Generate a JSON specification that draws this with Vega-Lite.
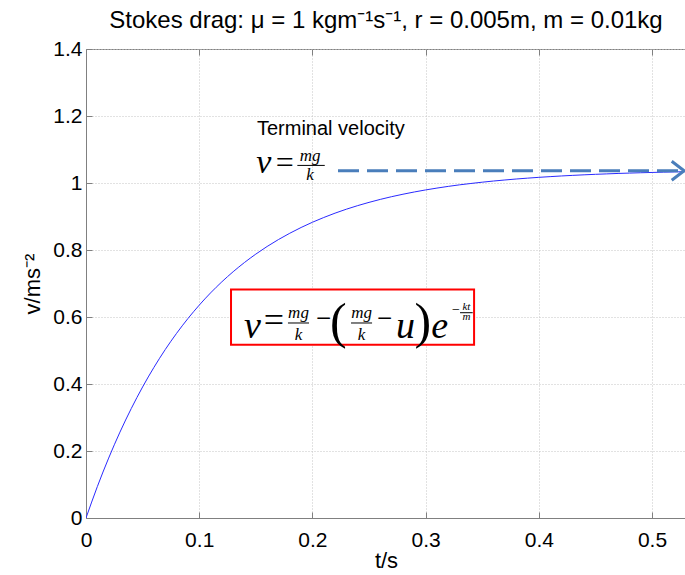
{
  "$schema": "https://vega.github.io/schema/vega-lite/v6.json",
  "width": 600,
  "height": 469,
  "autosize": {"type": "none"},
  "padding": {"left": 86, "top": 49, "right": 0, "bottom": 57},
  "background": "white",
  "title": {
    "text": "Stokes drag: μ = 1 kgm⁻¹s⁻¹, r = 0.005m, m = 0.01kg",
    "font": "Liberation Sans",
    "fontSize": 24,
    "fontWeight": "normal",
    "color": "#000000",
    "anchor": "middle",
    "offset": 5
  },
  "config": {
    "font": "Liberation Sans",
    "view": {"stroke": "#808080", "strokeWidth": 1}
  },
  "datasets": {
    "curve": [
      {"t": 0, "v": 0}, {"t": 0.01, "v": 0.0936}, {"t": 0.02, "v": 0.1788}, {"t": 0.03, "v": 0.2564},
      {"t": 0.04, "v": 0.3269}, {"t": 0.05, "v": 0.3911}, {"t": 0.06, "v": 0.4496}, {"t": 0.07, "v": 0.5028},
      {"t": 0.08, "v": 0.5512}, {"t": 0.09, "v": 0.5952}, {"t": 0.10, "v": 0.6353}, {"t": 0.11, "v": 0.6718},
      {"t": 0.12, "v": 0.7050}, {"t": 0.13, "v": 0.7352}, {"t": 0.14, "v": 0.7627}, {"t": 0.15, "v": 0.7877},
      {"t": 0.16, "v": 0.8105}, {"t": 0.17, "v": 0.8312}, {"t": 0.18, "v": 0.8500}, {"t": 0.19, "v": 0.8672},
      {"t": 0.20, "v": 0.8828}, {"t": 0.21, "v": 0.8970}, {"t": 0.22, "v": 0.9100}, {"t": 0.23, "v": 0.9218},
      {"t": 0.24, "v": 0.9325}, {"t": 0.25, "v": 0.9422}, {"t": 0.26, "v": 0.9511}, {"t": 0.27, "v": 0.9592},
      {"t": 0.28, "v": 0.9665}, {"t": 0.29, "v": 0.9732}, {"t": 0.30, "v": 0.9793}, {"t": 0.31, "v": 0.9848},
      {"t": 0.32, "v": 0.9899}, {"t": 0.33, "v": 0.9945}, {"t": 0.34, "v": 0.9986}, {"t": 0.35, "v": 1.0024},
      {"t": 0.36, "v": 1.0059}, {"t": 0.37, "v": 1.0090}, {"t": 0.38, "v": 1.0119}, {"t": 0.39, "v": 1.0145},
      {"t": 0.40, "v": 1.0169}, {"t": 0.41, "v": 1.0190}, {"t": 0.42, "v": 1.0210}, {"t": 0.43, "v": 1.0228},
      {"t": 0.44, "v": 1.0244}, {"t": 0.45, "v": 1.0259}, {"t": 0.46, "v": 1.0272}, {"t": 0.47, "v": 1.0285},
      {"t": 0.48, "v": 1.0296}, {"t": 0.49, "v": 1.0306}, {"t": 0.50, "v": 1.0315}, {"t": 0.51, "v": 1.0324},
      {"t": 0.52, "v": 1.0331}, {"t": 0.53, "v": 1.0338}
    ],
    "box": [{"t1": 0.1281, "t2": 0.3428, "v1": 0.5173, "v2": 0.6818}],
    "terminalLine": [{"t1": 0.2226, "t2": 0.5275, "v": 1.0367}],
    "arrowTip": [{"t": 0.5283, "v": 1.0367}],
    "terminalLabel": [{"t": 0.151, "v": 1.144, "label": "Terminal velocity"}],
    "eqItalic": [
      {"t": 0.1470, "v": 0.5373, "label": "v"},
      {"t": 0.2822, "v": 0.5373, "label": "u"},
      {"t": 0.3125, "v": 0.5373, "label": "e"}
    ],
    "eqEquals": [{"t": 0.1660, "v": 0.556, "label": "="}],
    "eqTermItalic": [{"t": 0.1570, "v": 1.0299, "label": "v"}],
    "eqTermEquals": [{"t": 0.1755, "v": 1.030, "label": "="}],
    "eqMinus": [
      {"t": 0.2098, "v": 0.5699, "label": "−"},
      {"t": 0.2637, "v": 0.5699, "label": "−"}
    ],
    "eqParen": [
      {"t": 0.2230, "v": 0.536, "label": "("},
      {"t": 0.2975, "v": 0.536, "label": ")"}
    ],
    "eqFracBox": [
      {"t": 0.1877, "v": 0.5979, "label": "mg"},
      {"t": 0.1877, "v": 0.5322, "label": "k"},
      {"t": 0.2434, "v": 0.5979, "label": "mg"},
      {"t": 0.2434, "v": 0.5322, "label": "k"}
    ],
    "eqFracTerm": [
      {"t": 0.1979, "v": 1.0645, "label": "mg"},
      {"t": 0.1979, "v": 1.0078, "label": "k"}
    ],
    "eqSupMinus": [{"t": 0.3268, "v": 0.6098, "label": "−"}],
    "eqSupFrac": [
      {"t": 0.3360, "v": 0.6200, "label": "kt"},
      {"t": 0.3360, "v": 0.5910, "label": "m"}
    ],
    "fracBars": [
      {"t1": 0.1784, "t2": 0.1970, "v": 0.5821},
      {"t1": 0.2341, "t2": 0.2527, "v": 0.5821},
      {"t1": 0.3304, "t2": 0.3416, "v": 0.6128},
      {"t1": 0.1867, "t2": 0.2109, "v": 1.0525}
    ]
  },
  "resolve": {"axis": {"x": "independent"}},
  "layer": [
    {
      "data": {"name": "curve"},
      "mark": {"type": "line", "color": "#2a2aff", "strokeWidth": 1, "interpolate": "monotone", "clip": true},
      "encoding": {
        "x": {
          "field": "t", "type": "quantitative",
          "scale": {"domain": [0, 0.53], "nice": false, "zero": false},
          "axis": {
            "orient": "bottom",
            "values": [0, 0.1, 0.2, 0.3, 0.4, 0.5],
            "format": "~g",
            "labelFont": "Liberation Sans", "labelFontSize": 21, "labelColor": "#000000",
            "labelFlush": false, "labelOverlap": false,
            "tickSize": -6, "tickColor": "#808080", "domainColor": "#808080",
            "labelPadding": 17,
            "grid": true, "gridColor": "#c4c4c4", "gridDash": [1, 2], "gridWidth": 1,
            "title": "t/s", "titleFont": "Liberation Sans", "titleFontSize": 22,
            "titleFontWeight": "normal", "titleColor": "#000000", "titlePadding": 0
          }
        },
        "y": {
          "field": "v", "type": "quantitative",
          "scale": {"domain": [0, 1.4], "nice": false},
          "axis": {
            "values": [0, 0.2, 0.4, 0.6, 0.8, 1, 1.2, 1.4],
            "format": "~g",
            "labelFont": "Liberation Sans", "labelFontSize": 21, "labelColor": "#000000",
            "labelFlush": false, "labelOverlap": false,
            "tickSize": -6, "tickColor": "#808080", "domainColor": "#808080",
            "labelPadding": 10,
            "grid": true, "gridColor": "#c4c4c4", "gridDash": [1, 2], "gridWidth": 1,
            "title": "v/ms⁻²", "titleFont": "Liberation Sans", "titleFontSize": 22,
            "titleFontWeight": "normal", "titleColor": "#000000", "titlePadding": 8
          }
        }
      }
    },
    {
      "data": {"name": "box"},
      "mark": {"type": "rect", "fill": "#ffffff", "stroke": "#ff0000", "strokeWidth": 2},
      "encoding": {
        "x": {
          "field": "t1", "type": "quantitative",
          "axis": {
            "orient": "top", "values": [0, 0.1, 0.2, 0.3, 0.4, 0.5],
            "labels": false, "domain": false, "grid": false, "title": null,
            "tickSize": -6, "tickColor": "#808080"
          }
        },
        "x2": {"field": "t2"},
        "y": {"field": "v1", "type": "quantitative"},
        "y2": {"field": "v2"}
      }
    },
    {
      "data": {"name": "terminalLine"},
      "mark": {"type": "rule", "color": "#4a7ebb", "strokeWidth": 3, "strokeDash": [21, 8]},
      "encoding": {
        "x": {"field": "t1", "type": "quantitative", "axis": null},
        "x2": {"field": "t2"},
        "y": {"field": "v", "type": "quantitative"}
      }
    },
    {
      "data": {"name": "arrowTip"},
      "mark": {"type": "point", "shape": "M-1.3,-1L0,0L-1.3,1", "filled": false, "stroke": "#4a7ebb", "strokeWidth": 3, "size": 361, "opacity": 1},
      "encoding": {
        "x": {"field": "t", "type": "quantitative", "axis": null},
        "y": {"field": "v", "type": "quantitative"}
      }
    },
    {
      "data": {"name": "terminalLabel"},
      "mark": {"type": "text", "font": "Liberation Sans", "fontSize": 20, "align": "left", "baseline": "alphabetic", "color": "#000000"},
      "encoding": {
        "x": {"field": "t", "type": "quantitative", "axis": null},
        "y": {"field": "v", "type": "quantitative"},
        "text": {"field": "label"}
      }
    },
    {
      "data": {"name": "eqItalic"},
      "mark": {"type": "text", "font": "Liberation Serif", "fontStyle": "italic", "fontSize": 38, "align": "center", "baseline": "alphabetic", "color": "#000000"},
      "encoding": {
        "x": {"field": "t", "type": "quantitative", "axis": null},
        "y": {"field": "v", "type": "quantitative"},
        "text": {"field": "label"}
      }
    },
    {
      "data": {"name": "eqEquals"},
      "mark": {"type": "text", "font": "Liberation Serif", "fontSize": 36, "align": "center", "baseline": "alphabetic", "color": "#000000"},
      "encoding": {
        "x": {"field": "t", "type": "quantitative", "axis": null},
        "y": {"field": "v", "type": "quantitative"},
        "text": {"field": "label"}
      }
    },
    {
      "data": {"name": "eqTermItalic"},
      "mark": {"type": "text", "font": "Liberation Serif", "fontStyle": "italic", "fontSize": 34, "align": "center", "baseline": "alphabetic", "color": "#000000"},
      "encoding": {
        "x": {"field": "t", "type": "quantitative", "axis": null},
        "y": {"field": "v", "type": "quantitative"},
        "text": {"field": "label"}
      }
    },
    {
      "data": {"name": "eqTermEquals"},
      "mark": {"type": "text", "font": "Liberation Serif", "fontSize": 32, "align": "center", "baseline": "alphabetic", "color": "#000000"},
      "encoding": {
        "x": {"field": "t", "type": "quantitative", "axis": null},
        "y": {"field": "v", "type": "quantitative"},
        "text": {"field": "label"}
      }
    },
    {
      "data": {"name": "eqMinus"},
      "mark": {"type": "text", "font": "Liberation Serif", "fontSize": 27, "align": "center", "baseline": "alphabetic", "color": "#000000"},
      "encoding": {
        "x": {"field": "t", "type": "quantitative", "axis": null},
        "y": {"field": "v", "type": "quantitative"},
        "text": {"field": "label"}
      }
    },
    {
      "data": {"name": "eqParen"},
      "mark": {"type": "text", "font": "Liberation Serif", "fontSize": 50, "align": "center", "baseline": "alphabetic", "color": "#000000"},
      "encoding": {
        "x": {"field": "t", "type": "quantitative", "axis": null},
        "y": {"field": "v", "type": "quantitative"},
        "text": {"field": "label"}
      }
    },
    {
      "data": {"name": "eqFracBox"},
      "mark": {"type": "text", "font": "Liberation Serif", "fontStyle": "italic", "fontSize": 17, "align": "center", "baseline": "alphabetic", "color": "#000000"},
      "encoding": {
        "x": {"field": "t", "type": "quantitative", "axis": null},
        "y": {"field": "v", "type": "quantitative"},
        "text": {"field": "label"}
      }
    },
    {
      "data": {"name": "eqFracTerm"},
      "mark": {"type": "text", "font": "Liberation Serif", "fontStyle": "italic", "fontSize": 17, "align": "center", "baseline": "alphabetic", "color": "#000000"},
      "encoding": {
        "x": {"field": "t", "type": "quantitative", "axis": null},
        "y": {"field": "v", "type": "quantitative"},
        "text": {"field": "label"}
      }
    },
    {
      "data": {"name": "eqSupMinus"},
      "mark": {"type": "text", "font": "Liberation Serif", "fontSize": 14, "align": "center", "baseline": "alphabetic", "color": "#000000"},
      "encoding": {
        "x": {"field": "t", "type": "quantitative", "axis": null},
        "y": {"field": "v", "type": "quantitative"},
        "text": {"field": "label"}
      }
    },
    {
      "data": {"name": "eqSupFrac"},
      "mark": {"type": "text", "font": "Liberation Serif", "fontStyle": "italic", "fontSize": 11, "align": "center", "baseline": "alphabetic", "color": "#000000"},
      "encoding": {
        "x": {"field": "t", "type": "quantitative", "axis": null},
        "y": {"field": "v", "type": "quantitative"},
        "text": {"field": "label"}
      }
    },
    {
      "data": {"name": "fracBars"},
      "mark": {"type": "rule", "color": "#000000", "strokeWidth": 1},
      "encoding": {
        "x": {"field": "t1", "type": "quantitative", "axis": null},
        "x2": {"field": "t2"},
        "y": {"field": "v", "type": "quantitative"}
      }
    }
  ]
}
